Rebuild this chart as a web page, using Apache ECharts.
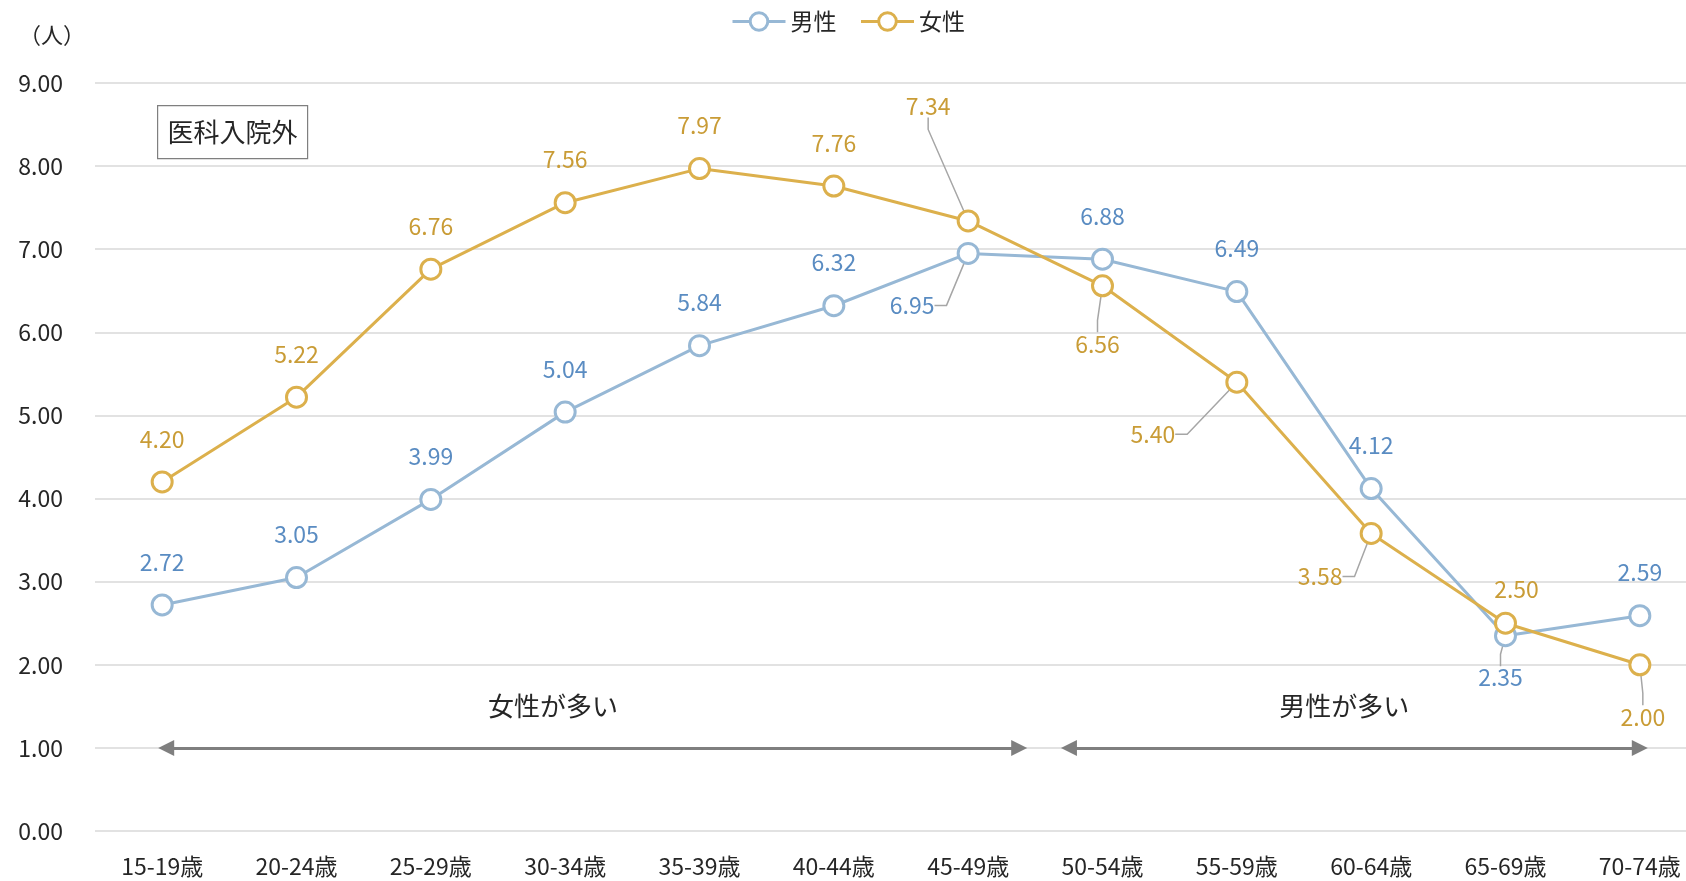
<!DOCTYPE html>
<html>
<head>
<meta charset="utf-8">
<script src="https://cdn.jsdelivr.net/npm/echarts@6/dist/echarts.min.js"></script>
<style>
  html, body { margin: 0; padding: 0; background: #fff; }
  #chart { width: 1686px; height: 881px; }
</style>
</head>
<body>
<div id="chart"></div>
<script>
const categories = ['15-19歳', '20-24歳', '25-29歳', '30-34歳', '35-39歳', '40-44歳', '45-49歳', '50-54歳', '55-59歳', '60-64歳', '65-69歳', '70-74歳']
const male = [2.72, 3.05, 3.99, 5.04, 5.84, 6.32, 6.95, 6.88, 6.49, 4.12, 2.35, 2.59]
const female = [4.20, 5.22, 6.76, 7.56, 7.97, 7.76, 7.34, 6.56, 5.40, 3.58, 2.50, 2.00]

// labels pushed off their default spot: [dataIndex, dx, dy, leader line]
const maleMoved = [[6, -56, 95, true], [10, -5, 85, true]]
const femaleMoved = [[6, -40, -72, true], [7, -5, 101, true], [8, -84, 95, true], [9, -51, 86, true], [10, 11, 9, false], [11, 3, 95, true]]

// arrows along y = 1 (x in category-index units)
const arrowFemale = [0.03, 6.38]
const arrowMale = [6.75, 11.0]
const noteFemale = { text: '女性が多い', x: 2.91, y: 1.5 }
const noteMale = { text: '男性が多い', x: 8.80, y: 1.5 }

const FONT = '"Noto Sans CJK JP", "Noto Sans", sans-serif'
const MALE_LINE = '#97b8d5'
const MALE_TEXT = '#5a8cc2'
const FEMALE_LINE = '#dcb04c'
const FEMALE_TEXT = '#c99c36'

function buildData(values, moved) {
  return values.map((v, i) => {
    const m = moved.find(r => r[0] === i)
    if (m && m[3]) return { value: v, labelLine: { show: true } }
    return v
  })
}

function layoutFor(moved) {
  return params => {
    const m = moved.find(r => r[0] === params.dataIndex)
    return m ? { dx: m[1], dy: m[2] } : {}
  }
}

function lineSeries(name, values, lineColor, textColor, moved) {
  return {
    name, type: 'line', data: buildData(values, moved),
    xAxisIndex: 0, yAxisIndex: 0,
    symbol: 'circle', symbolSize: 20,
    lineStyle: { color: lineColor, width: 3 },
    itemStyle: { color: '#fff', borderColor: lineColor, borderWidth: 3 },
    label: {
      show: true, position: 'top', distance: 20,
      color: textColor, fontSize: 23, fontFamily: FONT,
      formatter: p => Number(p.value).toFixed(2)
    },
    labelLine: { show: false, length2: 12, lineStyle: { color: '#a6a6a6', width: 1.5 } },
    labelLayout: layoutFor(moved),
    emphasis: { disabled: true },
    z: name === '女性' ? 4 : 3
  }
}

const chart = echarts.init(document.getElementById('chart'))

chart.setOption({
  animation: false,
  textStyle: { fontFamily: FONT },
  legend: {
    data: ['男性', '女性'],
    left: 726, top: 5,
    itemWidth: 53, itemHeight: 22, itemGap: 23,
    lineStyle: { width: 3 },
    itemStyle: { borderWidth: 3 },
    textStyle: { fontSize: 23, color: '#262626', fontFamily: FONT }
  },
  grid: { left: 95, top: 83, width: 1612, bottom: 50, outerBoundsMode: 'none' },
  xAxis: [{
    type: 'category', data: categories,
    axisLine: { show: false }, axisTick: { show: false },
    axisLabel: { color: '#262626', fontSize: 23, margin: 24, fontFamily: FONT }
  }, {
    type: 'value', min: -0.5, max: 11.5, show: false
  }],
  yAxis: [{
    type: 'value', min: 0, max: 9, interval: 1,
    axisLine: { show: false }, axisTick: { show: false },
    splitLine: { lineStyle: { color: '#d9d9d9', width: 1.5 } },
    axisLabel: { color: '#262626', fontSize: 23, margin: 32, fontFamily: FONT, formatter: v => v.toFixed(2) }
  }],
  graphic: [{
    type: 'text', left: 19, top: 24,
    style: { text: '（人）', fontSize: 22, fill: '#262626', fontFamily: FONT }
  }, {
    type: 'group', left: 157, top: 105,
    children: [{
      type: 'rect', shape: { x: 0, y: 0, width: 150, height: 53 },
      style: { fill: '#fff', stroke: '#7f7f7f', lineWidth: 1.2 }
    }, {
      type: 'text', x: 75, y: 27,
      style: { text: '医科入院外', fontSize: 26, fill: '#262626', fontFamily: FONT, align: 'center', verticalAlign: 'middle' }
    }]
  }],
  series: [
    lineSeries('男性', male, MALE_LINE, MALE_TEXT, maleMoved),
    lineSeries('女性', female, FEMALE_LINE, FEMALE_TEXT, femaleMoved),
    {
      name: 'arrows', type: 'line', data: [],
      xAxisIndex: 1, yAxisIndex: 0,
      silent: true, z: 2,
      markLine: {
        silent: true, animation: false,
        symbol: ['triangle', 'triangle'], symbolSize: [16, 16],
        lineStyle: { color: '#7f7f7f', width: 3, type: 'solid' },
        label: { show: false },
        data: [
          [{ coord: [arrowFemale[0], 1] }, { coord: [arrowFemale[1], 1] }],
          [{ coord: [arrowMale[0], 1] }, { coord: [arrowMale[1], 1] }]
        ]
      },
      markPoint: {
        silent: true, animation: false,
        symbol: 'circle', symbolSize: 0,
        label: { show: true, position: 'inside', color: '#262626', fontSize: 26, fontFamily: FONT, formatter: p => p.name },
        data: [
          { name: noteFemale.text, coord: [noteFemale.x, noteFemale.y] },
          { name: noteMale.text, coord: [noteMale.x, noteMale.y] }
        ]
      }
    }
  ]
})
</script>
</body>
</html>
